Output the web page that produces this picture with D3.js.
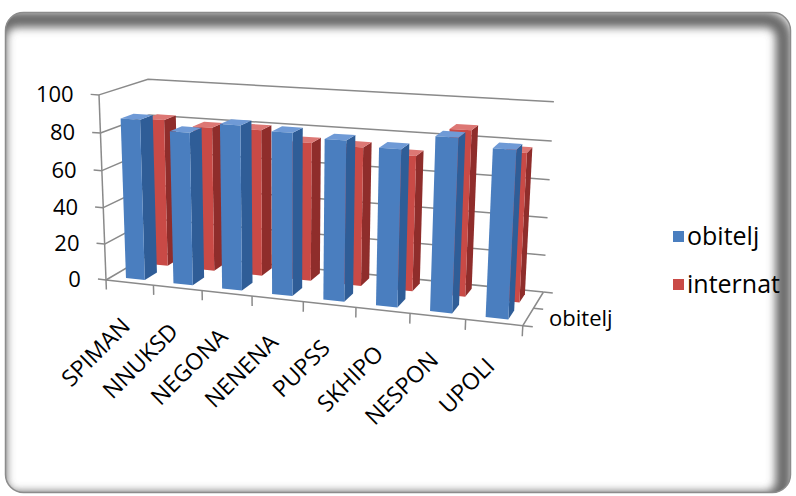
<!DOCTYPE html>
<html>
<head>
<meta charset="utf-8">
<script src="https://cdn.jsdelivr.net/npm/d3@7/dist/d3.min.js"></script>
<style>
  html, body { margin: 0; padding: 0; background: #ffffff; }
  svg { display: block; }
</style>
</head>
<body>
<svg id="chart" width="796" height="496"></svg>
<script>
// ---- data ----
const categories = ["SPIMAN", "NNUKSD", "NEGONA", "NENENA", "PUPSS", "SKHIPO", "NESPON", "UPOLI"];
const seriesNames = ["obitelj", "internat"];
const obitelj = [87, 82, 87.5, 85.5, 83.5, 81, 88.5, 84.5];
const internat = [82, 79.5, 80, 75, 74.5, 72, 87, 77.5];
const valueTicks = [0, 20, 40, 60, 80, 100];

// ---- 3-D box and camera ----
const BOX = { w: 418, h: 186, d: 109 };          // world units (category, value, depth)
const CAM = { yaw: 20, pitch: 16, focal: 1362, cx: 285, cy: 263, t: [-179, -17, 1362] };

const rad = Math.PI / 180;
const sa = Math.sin(CAM.yaw * rad), ca = Math.cos(CAM.yaw * rad);
const sb = Math.sin(CAM.pitch * rad), cb = Math.cos(CAM.pitch * rad);
// world axes expressed in camera space
const ax = [ca, -sa * sb, -sa * cb];
const ay = [0, cb, -sb];
const az = [sa, ca * sb, ca * cb];

function project(X, Y, Z) {
  const px = CAM.t[0] + X * ax[0] + Y * ay[0] + Z * az[0];
  const py = CAM.t[1] + X * ax[1] + Y * ay[1] + Z * az[1];
  const pz = CAM.t[2] + X * ax[2] + Y * ay[2] + Z * az[2];
  return [CAM.cx + CAM.focal * px / pz, CAM.cy - CAM.focal * py / pz];
}

// ---- scales ----
const xScale = d3.scaleBand().domain(categories).range([0, BOX.w]).paddingInner(0.6).paddingOuter(0.3);
const xSlot = d3.scaleBand().domain(categories).range([0, BOX.w]);
const yScale = d3.scaleLinear().domain([0, 100]).range([0, BOX.h]);
const zScale = d3.scaleBand().domain(seriesNames).range([0, BOX.d]).paddingInner(0.48).paddingOuter(0.24);
const zSlot = d3.scaleBand().domain(seriesNames).range([0, BOX.d]);

const seriesValues = { obitelj: obitelj, internat: internat };
const palette = {
  obitelj:  { front: "#4a7ebf", side: "#2f5d97", top: "#6f9ad6" },
  internat: { front: "#c94a46", side: "#8f2d2b", top: "#dd7774" }
};

const svg = d3.select("#chart");
const line = d3.line();
const poly = pts => "M" + pts.map(p => p.join(",")).join("L") + "Z";

// ---- chart frame ----
const defs = svg.append("defs");
const fr = { x: 5.5, y: 12.5, w: 785, h: 480, r: 18 };
defs.append("clipPath").attr("id", "frameClip")
  .append("rect").attr("x", fr.x).attr("y", fr.y).attr("width", fr.w).attr("height", fr.h).attr("rx", fr.r);
defs.append("filter").attr("id", "soft").attr("x", "-10%").attr("y", "-10%").attr("width", "120%").attr("height", "120%")
  .append("feGaussianBlur").attr("stdDeviation", 4);

svg.append("rect").attr("x", fr.x).attr("y", fr.y).attr("width", fr.w).attr("height", fr.h).attr("rx", fr.r)
  .attr("fill", "#ffffff");
svg.append("g").attr("clip-path", "url(#frameClip)")
  .append("rect")
  .attr("x", fr.x - 7).attr("y", fr.y + 7).attr("width", fr.w).attr("height", fr.h).attr("rx", fr.r)
  .attr("fill", "none").attr("stroke", "#6a6a6a").attr("stroke-width", 16).attr("filter", "url(#soft)");
svg.append("rect").attr("x", fr.x).attr("y", fr.y).attr("width", fr.w).attr("height", fr.h).attr("rx", fr.r)
  .attr("fill", "none").attr("stroke", "#8c8c8c").attr("stroke-width", 1.5);

// ---- walls: gridlines on side wall and back wall ----
const grid = svg.append("g").attr("fill", "none").attr("stroke", "#8a8a8a").attr("stroke-width", 1.5);
valueTicks.forEach(v => {
  const y = yScale(v);
  grid.append("path").attr("d", line([project(0, y, 0), project(0, y, BOX.d), project(BOX.w, y, BOX.d)]));
});

// ---- floor edges and axes ----
const axes = svg.append("g").attr("fill", "none").attr("stroke", "#8a8a8a").attr("stroke-width", 1.5);
axes.append("path").attr("d", line([project(0, 0, 0), project(BOX.w, 0, 0), project(BOX.w, 0, BOX.d)]));
axes.append("path").attr("d", line([project(0, 0, 0), project(0, BOX.h, 0)]));
valueTicks.forEach(v => {
  axes.append("path").attr("d", line([project(0, yScale(v), 0), project(-9, yScale(v), 0)]));
});
categories.concat([null]).forEach(c => {
  const x = c === null ? BOX.w : xSlot(c);
  axes.append("path").attr("d", line([project(x, 0, 0), project(x, -10, 0)]));
});
seriesNames.concat([null]).forEach(s => {
  const z = s === null ? BOX.d : zSlot(s);
  axes.append("path").attr("d", line([project(BOX.w, 0, z), project(BOX.w + 9, 0, z)]));
});

// ---- bars (back row first, left to right) ----
const bars = svg.append("g");
seriesNames.slice().reverse().forEach(s => {
  const col = palette[s];
  const z0 = zScale(s), z1 = z0 + zScale.bandwidth();
  categories.forEach((c, i) => {
    const x0 = xScale(c), x1 = x0 + xScale.bandwidth();
    const h = yScale(seriesValues[s][i]);
    const g = bars.append("g");
    g.append("path").attr("fill", col.side)
      .attr("d", poly([project(x1, 0, z0), project(x1, 0, z1), project(x1, h, z1), project(x1, h, z0)]));
    g.append("path").attr("fill", col.top)
      .attr("d", poly([project(x0, h, z0), project(x1, h, z0), project(x1, h, z1), project(x0, h, z1)]));
    g.append("path").attr("fill", col.front)
      .attr("d", poly([project(x0, 0, z0), project(x1, 0, z0), project(x1, h, z0), project(x0, h, z0)]));
  });
});

// ---- labels ----
const font = "'Open Sans', 'Noto Sans', sans-serif";
const labels = svg.append("g").attr("font-family", font).attr("fill", "#000");
valueTicks.forEach(v => {
  const p = project(-9, yScale(v), 0);
  labels.append("text").attr("x", p[0] - 17).attr("y", p[1]).attr("dy", "0.36em")
    .attr("text-anchor", "end").attr("font-size", 22).text(v);
});
categories.forEach(c => {
  const p = project(xSlot(c) + xSlot.bandwidth() / 2, 0, 0);
  labels.append("text")
    .attr("transform", `translate(${p[0] + 2},${p[1] + 45}) rotate(-45)`)
    .attr("text-anchor", "end").attr("font-size", 23).text(c);
});
// depth axis: every second series label is skipped, as the axis does when crowded
seriesNames.filter((s, i) => i % 2 === 0).forEach(s => {
  const p = project(BOX.w + 9, 0, zSlot(s) + zSlot.bandwidth() / 2);
  labels.append("text").attr("x", p[0] + 11).attr("y", p[1]).attr("dy", "0.36em")
    .attr("font-size", 22).text(s);
});

// ---- legend ----
const legend = svg.append("g").attr("font-family", font);
seriesNames.forEach((s, i) => {
  const y = 237 + i * 48;
  legend.append("rect").attr("x", 673).attr("y", y - 6).attr("width", 11).attr("height", 11)
    .attr("fill", palette[s].front);
  legend.append("text").attr("x", 687).attr("y", y).attr("dy", "0.33em")
    .attr("font-size", 25).attr("fill", "#000").text(s);
});
</script>
</body>
</html>
